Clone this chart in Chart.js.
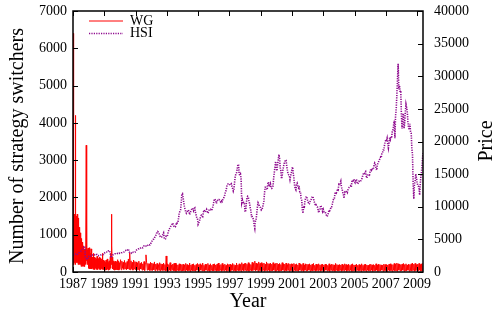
<!doctype html>
<html lang="en">
<head>
<meta charset="utf-8">
<script src="https://cdn.jsdelivr.net/npm/chart.js"></script>
<style>
  html, body { margin: 0; padding: 0; background: #ffffff; }
  #chart { display: block; }
</style>
<title></title>
</head>
<body>
<canvas id="chart" width="495" height="313"></canvas>
<script>
// x ticks (years) and y tick ranges
const yearTicks = [1987, 1989, 1991, 1993, 1995, 1997, 1999, 2001, 2003, 2005, 2007, 2009];
const switcherTicks = [0, 1000, 2000, 3000, 4000, 5000, 6000, 7000];
const priceTicks = [0, 5000, 10000, 15000, 20000, 25000, 30000, 35000, 40000];

// HSI, two readings per month from Jan 1987 to mid May 2009
const hsiStart = 1987;
const hsi = [
  2540, 2620, 2660, 2720, 2780, 2860, 2800, 2710, 2780, 2920, 3020, 3120, 3180, 3310, 3450, 3600, 3720, 3900, 3940, 2250, 2100, 1950, 1900, 2300,
  2380, 2300, 2420, 2460, 2560, 2540, 2620, 2660, 2600, 2610, 2700, 2760, 2690, 2670, 2540, 2500, 2520, 2560, 2600, 2610, 2640, 2660, 2690, 2690,
  2850, 2960, 3020, 2990, 3060, 3050, 3200, 3260, 3300, 2900, 2200, 2300, 2450, 2600, 2680, 2720, 2780, 2800, 2780, 2750, 2820, 2850, 2780, 2840,
  2900, 2880, 2940, 2960, 2980, 3000, 3050, 3110, 3250, 3300, 3220, 3260, 3400, 3520, 3100, 2980, 2900, 2860, 2960, 3100, 3050, 3000, 2980, 3025,
  3150, 3300, 3420, 3500, 3560, 3550, 3620, 3600, 3720, 3800, 3740, 3700, 3860, 4000, 3950, 3900, 3950, 3900, 4050, 4100, 4250, 4200, 4150, 4300,
  4500, 4700, 4880, 5000, 5050, 5200, 5500, 5600, 5900, 6000, 6200, 6100, 5900, 5600, 5400, 5300, 5350, 5500, 5800, 6000, 5200, 5000, 5100, 5500,
  5450, 5600, 6100, 6400, 6600, 6800, 7000, 7200, 7300, 7500, 7200, 7000, 6900, 6900, 7200, 7600, 7500, 7600, 8200, 9000, 9300, 9500, 10500, 11900,
  12000, 11400, 10600, 10000, 9600, 9200, 9000, 9200, 9400, 9500, 9200, 8800, 9100, 9400, 9600, 9800, 9700, 9400, 9700, 9800, 9100, 8700, 8300, 8200,
  7300, 7500, 7800, 8200, 8500, 8700, 8600, 8500, 9100, 9500, 9300, 9200, 9400, 9600, 9300, 9000, 9200, 9500, 9500, 9600, 9500, 9400, 9800, 10100,
  10700, 11200, 11100, 11000, 10500, 10800, 11000, 11000, 11100, 11000, 10800, 10700, 10900, 10800, 11100, 11200, 11600, 11800, 12300, 12500, 13100, 13400, 13500, 13450,
  13500, 13300, 13400, 13500, 13100, 12800, 12400, 12700, 13800, 14700, 15000, 15200, 15800, 16400, 16500, 15000, 14800, 15000, 14200, 10600, 11000, 10500, 10700, 10700,
  9200, 9400, 10500, 11400, 11600, 11500, 10800, 10500, 9800, 9400, 8500, 8500, 8300, 8000, 7200, 6700, 7900, 8000, 9000, 10000, 10600, 10400, 10100, 10000,
  9800, 9500, 9600, 9900, 10400, 10900, 12200, 13000, 13000, 12800, 12600, 13500, 13800, 13100, 13200, 13500, 12900, 12800, 12900, 13200, 14500, 15300, 16100, 16960,
  16000, 15500, 16500, 17200, 18000, 17400, 16000, 15500, 14300, 14700, 15600, 16100, 16600, 16800, 17200, 17100, 16200, 15600, 15000, 14900, 14800, 14200, 14800, 15100,
  15800, 16100, 15100, 14400, 13300, 12800, 12600, 13400, 13600, 13200, 12900, 13000, 12300, 12300, 11300, 11000, 9500, 9000, 10100, 10000, 10900, 11300, 11600, 11400,
  11000, 10700, 10400, 10500, 10900, 11000, 11200, 11500, 11600, 11300, 10800, 10600, 10200, 10300, 10100, 10000, 9600, 9100, 9400, 9500, 10200, 10000, 9700, 9300,
  9600, 9250, 9300, 9100, 9000, 8630, 8500, 8700, 9100, 9500, 9400, 9600, 10000, 10000, 10400, 10900, 11200, 11200, 12000, 12200, 12100, 12300, 12700, 12600,
  13400, 13300, 13600, 13900, 13000, 12700, 12200, 11900, 11300, 12200, 12100, 12300, 12400, 12200, 12600, 12850, 13000, 13100, 13200, 13000, 13800, 14100, 14000, 14230,
  13900, 13700, 14000, 14200, 13700, 13500, 13700, 13900, 13800, 13900, 14000, 14200, 14500, 14900, 15200, 14900, 15300, 15400, 14700, 14400, 14800, 14900, 15000, 14900,
  15400, 15750, 15600, 15900, 15700, 15800, 16400, 16700, 16500, 15900, 15600, 16300, 16700, 16900, 17100, 17400, 17600, 17500, 18200, 18300, 18700, 18700, 19400, 19960,
  20200, 20100, 20500, 19600, 19000, 19800, 20600, 20300, 20700, 20600, 21600, 21800, 22500, 23200, 20500, 23900, 25000, 27100, 29500, 31900, 28000, 28600, 27500, 27800,
  24000, 22000, 24000, 24300, 22000, 22800, 24500, 25700, 25200, 24500, 23000, 22100, 21800, 22700, 21500, 21300, 19000, 18000, 13500, 11200, 13500, 13900, 15000, 14400,
  13800, 13300, 13200, 12800, 11800, 13600, 14800, 15500, 16800, 18200
];

// WG switchers, weekly 1987-1989
const wgEarlyStart = 1987;
const wgEarly = [
  6400, 300, 1400, 200, 1550, 250, 1300, 200, 4200, 300, 1500, 250, 1400, 300, 1550, 250, 1300, 200, 1450, 250,
  1200, 200, 1100, 250, 1050, 200, 950, 150, 900, 200, 800, 150, 780, 200, 700, 150, 650, 200, 600, 150,
  620, 200, 550, 250, 3400, 300, 640, 200, 600, 250, 640, 200,
  600, 100, 650, 80, 550, 120, 500, 90, 620, 100, 450, 80, 400, 100, 380, 70, 500, 90, 350, 60,
  400, 80, 320, 100, 380, 70, 350, 90, 420, 60, 330, 80, 360, 100, 300, 70, 400, 90, 340, 60,
  380, 80, 300, 90, 350, 70, 500, 80, 320, 60, 290, 80,
  280, 60, 300, 80, 260, 50, 320, 70, 270, 60, 350, 80, 290, 50, 260, 70, 300, 60, 280, 80,
  400, 100, 500, 200, 1550, 700, 300, 100, 400, 80, 280, 60, 300, 70, 260, 50, 290, 60, 270, 80,
  250, 60, 280, 70, 330, 60, 260, 50, 290, 70, 250, 60
];

// WG switchers, two readings per month 1990 to mid May 2009
const wgLateStart = 1990;
const wgLate = [
  80, 330, 60, 290, 100, 260, 70, 310, 90, 250, 60, 280, 80, 350, 70, 510, 60, 300, 90, 260, 50, 320, 80, 280,
  60, 270, 50, 240, 70, 290, 40, 230, 80, 260, 50, 220, 60, 280, 40, 240, 460, 250, 50, 230, 60, 220, 40, 260,
  50, 240, 40, 220, 60, 270, 30, 210, 70, 230, 40, 200, 50, 250, 30, 220, 60, 210, 40, 240, 50, 200, 30, 430,
  40, 220, 30, 200, 50, 250, 30, 190, 60, 210, 30, 230, 40, 240, 20, 200, 50, 190, 30, 220, 40, 210, 30, 200,
  30, 210, 40, 190, 20, 230, 50, 200, 30, 180, 40, 240, 20, 190, 50, 210, 30, 220, 40, 180, 20, 200, 50, 230,
  40, 200, 20, 220, 50, 190, 30, 240, 40, 180, 20, 210, 50, 200, 30, 230, 40, 190, 20, 220, 50, 180, 30, 210,
  30, 220, 50, 190, 20, 210, 40, 240, 30, 180, 50, 200, 20, 230, 40, 190, 30, 210, 50, 180, 20, 220, 40, 200,
  40, 210, 20, 190, 50, 230, 30, 200, 40, 180, 20, 240, 50, 190, 30, 220, 40, 200, 20, 250, 50, 210, 30, 230,
  50, 240, 30, 210, 40, 250, 20, 220, 50, 200, 30, 260, 40, 230, 60, 290, 30, 240, 50, 220, 20, 270, 40, 230,
  40, 250, 30, 220, 50, 240, 20, 210, 40, 270, 30, 230, 50, 220, 20, 240, 40, 210, 30, 250, 50, 220, 20, 230,
  30, 240, 50, 210, 20, 230, 40, 200, 30, 250, 50, 220, 20, 210, 40, 240, 30, 200, 50, 230, 20, 210, 40, 220,
  40, 210, 20, 230, 50, 200, 30, 220, 40, 190, 20, 240, 50, 210, 30, 200, 40, 230, 20, 190, 50, 220, 30, 210,
  30, 200, 50, 220, 20, 190, 40, 210, 30, 230, 50, 180, 20, 210, 40, 200, 30, 220, 50, 190, 20, 200, 40, 210,
  40, 190, 20, 210, 50, 200, 30, 180, 40, 220, 20, 190, 50, 210, 30, 200, 40, 190, 20, 230, 50, 200, 30, 190,
  30, 200, 50, 190, 20, 210, 40, 180, 30, 220, 50, 200, 20, 190, 40, 210, 30, 180, 50, 200, 20, 220, 40, 190,
  40, 190, 20, 210, 50, 180, 30, 200, 40, 190, 20, 220, 50, 180, 30, 200, 40, 210, 20, 190, 50, 180, 30, 200,
  30, 210, 50, 190, 20, 200, 40, 180, 30, 220, 50, 190, 20, 210, 40, 200, 30, 190, 50, 180, 20, 210, 40, 200,
  40, 200, 20, 190, 50, 210, 30, 220, 40, 190, 20, 200, 50, 230, 30, 210, 40, 240, 20, 220, 50, 210, 30, 200,
  30, 210, 50, 230, 20, 200, 40, 220, 30, 190, 50, 210, 20, 200, 40, 220, 30, 240, 50, 210, 20, 230, 40, 200,
  40, 210, 30, 230, 50, 200, 20, 220, 40, 240
];

const serif = '"Liberation Serif", "DejaVu Serif", serif';

const hsiPoints = hsi.map((v, i) => ({ x: hsiStart + i / 24, y: v }));
const wgPoints = wgEarly.map((v, i) => ({ x: wgEarlyStart + i / 52, y: v }))
  .concat(wgLate.map((v, i) => ({ x: wgLateStart + i / 24, y: v })));

// gnuplot style frame, inward ticks, tick labels, legend and axis titles
const gnuplotFrame = {
  id: 'gnuplotFrame',
  afterDatasetsDraw(chart) {
    const { ctx, chartArea: a, scales } = chart;
    ctx.save();
    ctx.strokeStyle = '#000';
    ctx.lineWidth = 1;
    ctx.beginPath();
    yearTicks.forEach(v => {
      const px = Math.round(scales.x.getPixelForValue(v)) + 0.5;
      ctx.moveTo(px, a.bottom); ctx.lineTo(px, a.bottom - 5);
      ctx.moveTo(px, a.top); ctx.lineTo(px, a.top + 5);
    });
    switcherTicks.forEach(v => {
      const py = Math.round(scales.y.getPixelForValue(v)) + 0.5;
      ctx.moveTo(a.left, py); ctx.lineTo(a.left + 5, py);
    });
    priceTicks.forEach(v => {
      const py = Math.round(scales.y2.getPixelForValue(v)) + 0.5;
      ctx.moveTo(a.right, py); ctx.lineTo(a.right - 5, py);
    });
    ctx.stroke();
    ctx.lineWidth = 1.5;
    ctx.strokeRect(a.left, a.top, a.right - a.left, a.bottom - a.top);

    // tick labels
    ctx.fillStyle = '#000';
    ctx.font = '14px ' + serif;
    ctx.textBaseline = 'middle';
    ctx.textAlign = 'center';
    yearTicks.forEach(v => ctx.fillText(String(v), scales.x.getPixelForValue(v), a.bottom + 12));
    ctx.textAlign = 'right';
    switcherTicks.forEach(v => ctx.fillText(String(v), a.left - 6, scales.y.getPixelForValue(v)));
    ctx.textAlign = 'left';
    priceTicks.forEach(v => ctx.fillText(String(v), a.right + 11, scales.y2.getPixelForValue(v)));

    // legend
    const order = [1, 0];
    order.forEach((di, row) => {
      const ds = chart.data.datasets[di];
      const ly = 21 + row * 12.5;
      ctx.strokeStyle = ds.borderColor;
      ctx.lineWidth = ds.borderWidth;
      ctx.setLineDash(ds.borderDash || []);
      ctx.beginPath();
      ctx.moveTo(a.left + 16, ly); ctx.lineTo(a.left + 50, ly);
      ctx.stroke();
      ctx.setLineDash([]);
      ctx.fillText(ds.label, a.left + 57, ly);
    });

    // axis titles
    ctx.font = '20px ' + serif;
    ctx.textAlign = 'center';
    ctx.fillText('Year', (a.left + a.right) / 2, 302);
    ctx.save();
    ctx.translate(18, 146);
    ctx.rotate(-Math.PI / 2);
    ctx.fillText('Number of strategy switchers', 0, 0);
    ctx.restore();
    ctx.save();
    ctx.translate(487, 141);
    ctx.rotate(-Math.PI / 2);
    ctx.fillText('Price', 0, 0);
    ctx.restore();
    ctx.restore();
  }
};

new Chart(document.getElementById('chart'), {
  type: 'line',
  data: {
    datasets: [
      {
        label: 'HSI',
        data: hsiPoints,
        yAxisID: 'y2',
        borderColor: '#8e0a8e',
        borderWidth: 1.6,
        borderDash: [1.2, 1.2],
        pointRadius: 0,
        tension: 0,
        order: 0
      },
      {
        label: 'WG',
        data: wgPoints,
        yAxisID: 'y',
        borderColor: '#ff0000',
        borderWidth: 1,
        pointRadius: 0,
        tension: 0,
        order: 1
      }
    ]
  },
  options: {
    responsive: false,
    animation: false,
    devicePixelRatio: 1,
    layout: { padding: { top: 11, left: 73, right: 72, bottom: 41 } },
    plugins: { legend: { display: false }, tooltip: { enabled: false } },
    scales: {
      x: { type: 'linear', display: false, min: 1987, max: 2009.38 },
      y: { position: 'left', display: false, min: 0, max: 7000 },
      y2: { position: 'right', display: false, min: 0, max: 40000 }
    }
  },
  plugins: [gnuplotFrame]
});
</script>
</body>
</html>
